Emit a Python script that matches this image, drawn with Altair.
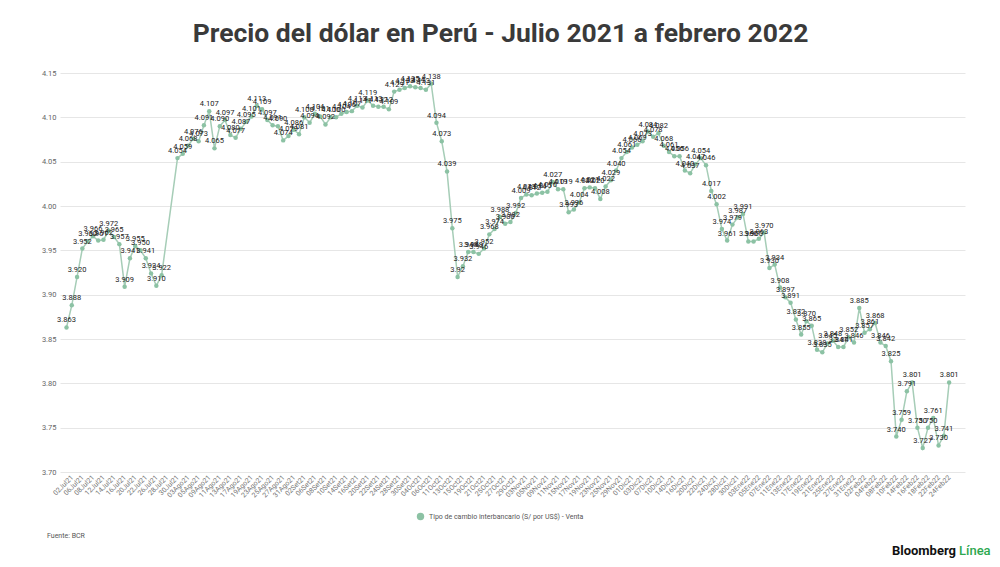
import altair as alt
import pandas as pd

SERIE = "Tipo de cambio interbancario (S/ por US$) - Venta"

valores = [
    3.863, 3.888, 3.920, 3.952, 3.960, 3.966, 3.961, 3.962, 3.972, 3.965,
    3.957, 3.909, 3.941, 3.955, 3.950, 3.941, 3.924, 3.910, 3.922, None,
    None, 4.054, 4.059, 4.068, 4.076, 4.073, 4.091, 4.107, 4.065, 4.090,
    4.097, 4.080, 4.077, 4.087, 4.095, 4.101, 4.113, 4.109, 4.097, 4.091,
    4.090, 4.074, 4.079, 4.086, 4.081, 4.100, 4.094, 4.104, 4.101, 4.092,
    4.100, 4.100, 4.104, 4.106, 4.107, 4.113, 4.111, 4.119, 4.113, 4.112,
    4.112, 4.109, 4.129, 4.131, 4.133, 4.135, 4.134, 4.133, 4.131, 4.138,
    4.094, 4.073, 4.039, 3.975, 3.920, 3.932, 3.948, 3.948, 3.946, 3.952,
    3.968, 3.974, 3.988, 3.980, 3.982, 3.992, 4.009, 4.013, 4.012, 4.014,
    4.015, 4.016, 4.027, 4.019, 4.019, 3.993, 3.996, 4.004, 4.020, 4.021,
    4.020, 4.008, 4.022, 4.029, 4.040, 4.054, 4.061, 4.066, 4.069, 4.073,
    4.084, 4.078, 4.082, 4.068, 4.061, 4.056, 4.056, 4.040, 4.037, 4.047,
    4.054, 4.046, 4.017, 4.002, 3.974, 3.961, 3.979, 3.987, 3.991, 3.960,
    3.960, 3.963, 3.970, 3.930, 3.934, 3.908, 3.897, 3.891, 3.872, 3.855,
    3.870, 3.865, 3.838, 3.835, 3.845, 3.848, 3.841, 3.841, 3.852, 3.846,
    3.885, 3.857, 3.861, 3.868, 3.846, 3.842, 3.825, 3.740, 3.759, 3.791,
    3.801, 3.750, 3.727, 3.750, 3.761, 3.730, 3.741, 3.801,
]

feriados = ["2021-10-08", "2021-11-01", "2021-12-08"]
meses = {7: "Jul", 8: "Ago", 9: "Set", 10: "Oct", 11: "Nov", 12: "Dic", 1: "Ene", 2: "Feb"}
dias = [d for d in pd.bdate_range("2021-07-01", "2022-02-24")
        if d.strftime("%Y-%m-%d") not in feriados]
fechas = [f"{d.day:02d}{meses[d.month]}{d.strftime('%y')}" for d in dias]

etiquetas_cortas = {74: "3.92"}
y_ticks = [3.70, 3.75, 3.80, 3.85, 3.90, 3.95, 4.00, 4.05, 4.10, 4.15]

df = pd.DataFrame({"i": list(range(len(fechas))), "fecha": fechas,
                   "valor": valores, "serie": SERIE})
df = df.dropna().reset_index(drop=True)
df["etiqueta"] = [etiquetas_cortas.get(i, f"{v:.3f}") for i, v in zip(df["i"], df["valor"])]

label_expr = "[" + ",".join(repr(f) for f in fechas) + "][datum.value]"

x = alt.X("i:Q",
          scale=alt.Scale(domain=[-1.23, 170.0], nice=False, zero=False),
          axis=alt.Axis(values=list(range(1, len(fechas), 2)), labelExpr=label_expr,
                        labelAngle=315, labelAlign="right", labelBaseline="middle",
                        labelFontSize=7, labelColor="#777777", labelFont="Roboto",
                        labelPadding=4, ticks=False, domain=False, grid=False,
                        title=None, labelOverlap=False))
y = alt.Y("valor:Q",
          scale=alt.Scale(domain=[3.70, 4.15], nice=False, zero=False),
          axis=alt.Axis(values=y_ticks, format=".2f", labelFontSize=7.5,
                        labelColor="#666666", labelFont="Roboto", labelPadding=4,
                        ticks=False, domain=False, gridColor="#e6e6e6", title=None))

base = alt.Chart(df)

linea = base.mark_line(color="#a6cdb7", strokeWidth=1.5).encode(x=x, y=y)
puntos = base.mark_circle(size=20, opacity=1).encode(
    x=x, y=y,
    color=alt.Color("serie:N", scale=alt.Scale(range=["#8cc2a4"]),
                    legend=alt.Legend(orient="none", legendX=356, legendY=439,
                                      title=None, symbolType="circle", symbolSize=55,
                                      labelFontSize=7, labelColor="#555555",
                                      labelFont="Roboto")))
textos = base.mark_text(dy=-7, fontSize=7.5, color="#222222", font="Roboto").encode(
    x=x, y=y, text="etiqueta:N")

fuente = alt.Chart(pd.DataFrame({"t": ["Fuente: BCR"]})).mark_text(
    align="left", baseline="middle", fontSize=7, color="#555555", font="Roboto"
).encode(x=alt.value(-13), y=alt.value(463), text="t:N")
bloomberg = alt.Chart(pd.DataFrame({"t": ["Bloomberg"]})).mark_text(
    align="right", baseline="middle", fontSize=13, fontWeight="bold", color="#111111",
    font="Roboto"
).encode(x=alt.value(896), y=alt.value(478), text="t:N")
linea_txt = alt.Chart(pd.DataFrame({"t": ["Línea"]})).mark_text(
    align="left", baseline="middle", fontSize=13, fontWeight=500, color="#2ea84f",
    font="Roboto"
).encode(x=alt.value(899), y=alt.value(478), text="t:N")

chart = alt.layer(linea, puntos, textos, fuente, bloomberg, linea_txt).properties(
    width=905, height=399,
    autosize=alt.AutoSizeParams(type="none"),
    padding={"left": 52, "top": 65, "right": 27, "bottom": 87},
    title=alt.TitleParams("Precio del dólar en Perú - Julio 2021 a febrero 2022",
                          fontSize=26.5, font="Roboto", fontWeight="bold",
                          color="#3a3a3a", anchor="middle", dx=-12, offset=22),
).configure_view(stroke=None)

chart.save("out.html", embed_options={"renderer": "svg", "actions": False})
